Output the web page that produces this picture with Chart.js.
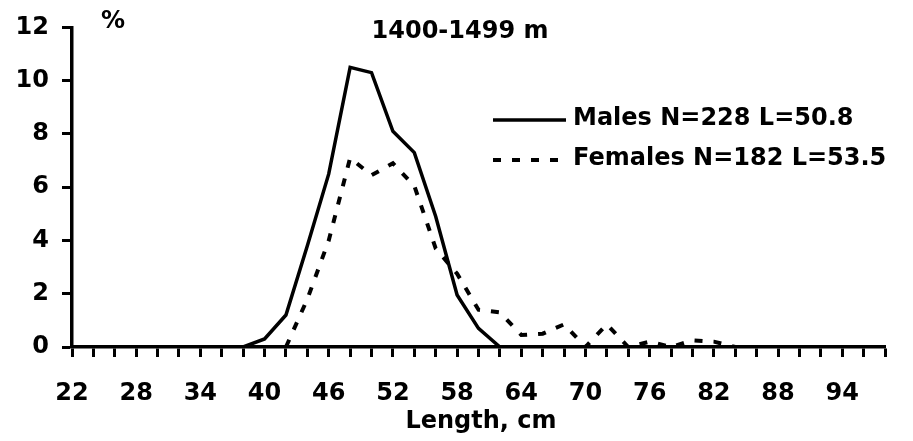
<!DOCTYPE html>
<html>
<head>
<meta charset="utf-8">
<script src="https://cdn.jsdelivr.net/npm/chart.js@4/dist/chart.umd.min.js"></script>
<style>
html,body{margin:0;padding:0;background:#fff;}
#wrap{width:913px;height:441px;position:relative;}
</style>
</head>
<body>
<div id="wrap"><canvas id="c" width="913" height="441"></canvas></div>
<script>
const titleText = "1400-1499 m";
const yUnitText = "%";
const xAxisTitle = "Length, cm";
const xMin = 22, xMax = 98, xStep = 2, xLabelStep = 6, xLastLabel = 94;
const yMin = 0, yMax = 12, yStep = 2;

const maleLabel = "Males N=228 L=50.8";
const maleLengths = [38, 40, 42, 44, 46, 48, 50, 52, 54, 56, 58, 60, 62];
const maleShare   = [0, 0.3, 1.2, 3.8, 6.5, 10.5, 10.3, 8.1, 7.3, 4.9, 1.95, 0.7, 0];

const femaleLabel = "Females N=182 L=53.5";
const femaleLengths = [42, 44, 46, 48, 50, 52, 54, 56, 58, 60, 62, 64, 66, 68, 70, 72, 74, 76, 78, 80, 82, 84];
const femaleShare   = [0, 1.8, 4.0, 7.1, 6.45, 6.9, 6.05, 3.7, 2.75, 1.4, 1.3, 0.45, 0.5, 0.85, 0, 0.85, 0, 0.2, 0, 0.25, 0.2, 0];

const FONT = "'DejaVu Sans', 'Liberation Sans', Arial, sans-serif";
const FS = 24;

const textPlugin = {
  id: 'texts',
  afterDraw(chart) {
    const ctx = chart.ctx;
    ctx.save();
    ctx.fillStyle = '#000';
    ctx.font = `bold ${FS}px ${FONT}`;
    ctx.textBaseline = 'middle';
    ctx.textAlign = 'center';
    ctx.fillText(titleText, 460, 32);
    ctx.fillText(yUnitText, 113, 22);
    ctx.fillText(xAxisTitle, 481, 422);
    // legend
    const ds = chart.data.datasets;
    const rows = [120, 160];
    ds.forEach((d, i) => {
      const y = rows[i];
      ctx.beginPath();
      ctx.strokeStyle = d.borderColor;
      ctx.lineWidth = d.borderWidth;
      ctx.setLineDash(d.borderDash || []);
      ctx.moveTo(493, y);
      ctx.lineTo(566, y);
      ctx.stroke();
      ctx.setLineDash([]);
      ctx.textAlign = 'left';
      ctx.fillText(d.label, 573, y - 1);
    });
    ctx.restore();
  }
};

const toPts = (xs, ys) => xs.map((x, i) => ({x: x, y: ys[i]}));

new Chart(document.getElementById('c'), {
  type: 'line',
  data: {
    datasets: [
      {label: maleLabel, data: toPts(maleLengths, maleShare), borderColor: '#000', borderWidth: 3.5, pointRadius: 0, tension: 0, fill: false},
      {label: femaleLabel, data: toPts(femaleLengths, femaleShare), borderColor: '#000', borderWidth: 4, borderDash: [8, 11], pointRadius: 0, tension: 0, fill: false}
    ]
  },
  options: {
    responsive: false,
    animation: false,
    layout: {padding: {left: 0, right: 28, top: 21, bottom: 0}},
    plugins: {legend: {display: false}, tooltip: {enabled: false}, title: {display: false}},
    scales: {
      x: {
        type: 'linear', min: xMin, max: xMax,
        afterFit(s) { s.height = 94; },
        border: {display: true, color: '#000', width: 3.5},
        grid: {drawOnChartArea: false, drawTicks: true, tickLength: 10, tickWidth: 3, tickColor: '#000'},
        ticks: {
          stepSize: xStep, autoSkip: false, maxRotation: 0, minRotation: 0, padding: 22,
          color: '#000', font: {family: FONT, size: FS, weight: 'bold'},
          callback: (v) => ((v - xMin) % xLabelStep === 0 && v <= xLastLabel) ? String(v) : ''
        }
      },
      y: {
        min: yMin, max: yMax,
        afterFit(s) { s.width = 72; },
        border: {display: true, color: '#000', width: 3.5},
        grid: {drawOnChartArea: false, drawTicks: true, tickLength: 10, tickWidth: 3, tickColor: '#000'},
        ticks: {stepSize: yStep, padding: 13, color: '#000', font: {family: FONT, size: FS, weight: 'bold'}}
      }
    }
  },
  plugins: [textPlugin]
});
</script>
</body>
</html>
